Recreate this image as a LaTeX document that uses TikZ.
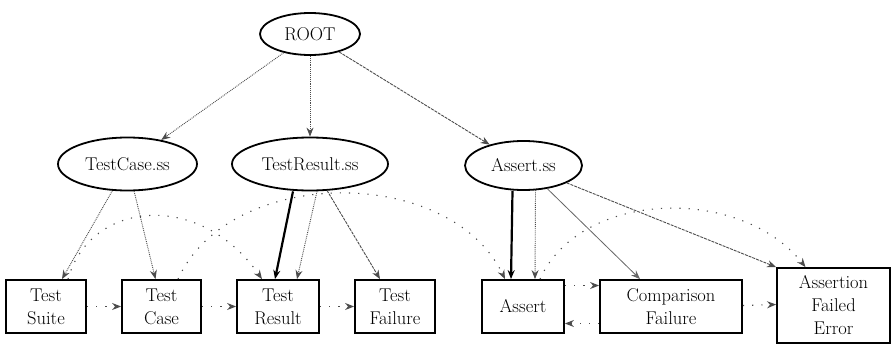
\documentclass[tikz,border=0pt]{standalone}
\usetikzlibrary{shapes.geometric,arrows.meta}
\begin{document}
\begin{tikzpicture}[x=1pt,y=-1pt,
  every node/.style={font=\rmfamily\fontsize{18.5}{23}\selectfont},
  ell/.style={draw=black,line width=1.8pt,ellipse,inner sep=0pt},
  cls/.style={draw=black,line width=1.8pt,rectangle,inner sep=0pt,align=center},
  tip/.style={-{Stealth[length=9pt,width=7pt]}},
  dep/.style={tip,black!70,line width=0.9pt,densely dotted},
  heavy/.style={tip,black,line width=2.2pt},
  solidthin/.style={tip,black!60,line width=0.8pt},
  fdash/.style={tip,black!70,line width=0.9pt,dash pattern=on 3pt off 1pt},
  loose/.style={tip,black!70,line width=1.1pt,dash pattern=on 1.2pt off 8pt},
]
\useasboundingbox (0,0) rectangle (893,345);
% ellipses
\node[ell,minimum width=100pt,minimum height=42pt] (root) at (310,34) {ROOT};
\node[ell,minimum width=139pt,minimum height=53pt] (tcs) at (127.5,164) {TestCase.ss};
\node[ell,minimum width=156pt,minimum height=53pt] (trs) at (310,164) {TestResult.ss};
\node[ell,minimum width=117pt,minimum height=49pt] (as) at (523.5,165.5) {Assert.ss};
% boxes
\node[cls,minimum width=80pt,minimum height=53pt] (ts) at (46,306.5) {Test\\Suite};
\node[cls,minimum width=79pt,minimum height=53pt] (tc) at (161.5,306.5) {Test\\Case};
\node[cls,minimum width=82pt,minimum height=53pt] (tr) at (278,306.5) {Test\\Result};
\node[cls,minimum width=80pt,minimum height=53pt] (tf) at (395,306.5) {Test\\Failure};
\node[cls,minimum width=82pt,minimum height=53pt] (a) at (523,306.5) {Assert};
\node[cls,minimum width=142pt,minimum height=53pt] (cf) at (671,306.5) {Comparison\\Failure};
\node[cls,minimum width=113pt,minimum height=75pt] (afe) at (833.5,305.5) {Assertion\\Failed\\Error};
% root edges
\draw[dep] (root) -- (tcs);
\draw[dep] (root) -- (trs);
\draw[fdash] (root) -- (as);
% TestCase.ss edges
\draw[dep] (tcs) -- ([xshift=16pt]ts.north);
\draw[dep] (tcs) -- ([xshift=-6pt]tc.north);
% TestResult.ss edges
\draw[heavy] ([xshift=-17pt]trs.south) -- ([xshift=-3pt]tr.north);
\draw[dep] ([xshift=7pt]trs.south) -- ([xshift=19pt]tr.north);
\draw[fdash] ([xshift=17pt,yshift=1pt]trs.south) -- ([xshift=-15pt]tf.north);
% Assert.ss edges
\draw[heavy] ([xshift=-11pt]as.south) -- ([xshift=-12pt]a.north);
\draw[dep] ([xshift=12pt,yshift=1pt]as.south) -- ([xshift=12pt]a.north);
\draw[solidthin] (as) -- ([xshift=-31pt]cf.north);
\draw[fdash] (as) -- (afe.north west);
% horizontal
\draw[loose] (ts.east) -- (tc.west);
\draw[loose] (tc.east) -- (tr.west);
\draw[loose] (tr.east) -- (tf.west);
\draw[loose] ([yshift=21pt]a.east) -- ([yshift=21pt]cf.west);
\draw[loose] ([yshift=-17pt]cf.west) -- ([yshift=-17pt]a.east);
\draw[loose] ([yshift=1pt]cf.east) -- ([yshift=1pt]afe.west);
% arcs
\draw[loose] ([xshift=22pt]ts.north) .. controls (90,200) and (200,190) .. ([xshift=-16pt]tr.north);
\draw[loose] ([xshift=16.5pt]tc.north) .. controls (230,165) and (450,165) .. ([xshift=-18pt]a.north);
\draw[loose] ([xshift=17pt]a.north) .. controls (580,190) and (740,185) .. ([xshift=-28pt]afe.north);
\end{tikzpicture}
\end{document}
